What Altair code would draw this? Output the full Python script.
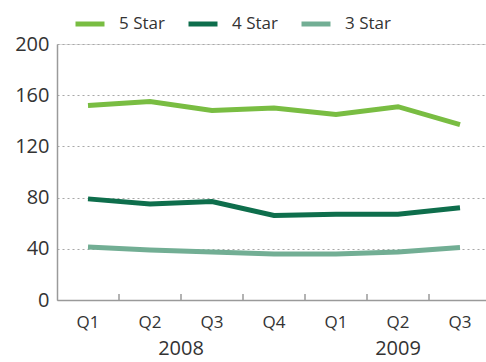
import altair as alt
import pandas as pd

# Quarterly index values by hotel class
quarters = ["2008 Q1", "2008 Q2", "2008 Q3", "2008 Q4", "2009 Q1", "2009 Q2", "2009 Q3"]
quarter_labels = ["Q1", "Q2", "Q3", "Q4", "Q1", "Q2", "Q3"]
five_star = [152, 155, 148, 150, 145, 151, 137]
four_star = [79, 75, 77, 66, 67, 67, 72]
three_star = [41.5, 39, 37.5, 36, 36, 37.5, 41]

series = ["5 Star", "4 Star", "3 Star"]
colors = ["#79bd42", "#0e6e4c", "#72ae94"]

rows = []
for name, vals in zip(series, [five_star, four_star, three_star]):
    for q, v in zip(quarters, vals):
        rows.append({"quarter": q, "value": v, "series": name})
df = pd.DataFrame(rows)

W, H = 429, 256
FONT = "Open Sans"
label_expr = "{" + ", ".join(f"'{q}': '{l}'" for q, l in zip(quarters, quarter_labels)) + "}[datum.value]"

x_scale = alt.Scale(domain=quarters, range=[0, 434], paddingInner=0, paddingOuter=0)

lines = alt.Chart(df).mark_line(strokeWidth=5, strokeCap="butt").encode(
    x=alt.X("quarter:N", scale=x_scale, sort=quarters,
            axis=alt.Axis(title=None, labelExpr=label_expr, labelAngle=0,
                          ticks=False, domain=True, domainColor="#9a9a9a",
                          domainWidth=1.5, labelFontSize=17, labelFont=FONT,
                          labelColor="#333333", labelPadding=14, grid=False)),
    y=alt.Y("value:Q", scale=alt.Scale(domain=[0, 200], nice=False),
            axis=alt.Axis(title=None, values=[0, 40, 80, 120, 160, 200],
                          ticks=False, domain=True, domainColor="#9a9a9a",
                          domainWidth=1.5, labelFontSize=20, labelFont=FONT,
                          labelColor="#333333", labelPadding=8,
                          grid=True, gridColor="#a8a8a8", gridDash=[2, 3],
                          gridWidth=1.2)),
    color=alt.Color("series:N", scale=alt.Scale(domain=series, range=colors),
                    sort=series,
                    legend=alt.Legend(title=None, orient="none", direction="horizontal",
                                      legendX=16, legendY=-37,
                                      symbolType="stroke", symbolSize=841,
                                      symbolStrokeWidth=5, labelFontSize=17,
                                      labelFont=FONT, labelColor="#333333",
                                      labelOffset=12, columnPadding=13,
                                      padding=0)),
)

# Small upward ticks at the quarter boundaries
tick_df = pd.DataFrame({"quarter": quarters[1:]})
ticks = alt.Chart(tick_df).mark_rule(color="#9a9a9a", strokeWidth=1.5).encode(
    x=alt.X("quarter:N", scale=x_scale, sort=quarters, bandPosition=0),
    y=alt.value(H - 6),
    y2=alt.value(H),
)

# Year labels under the quarter labels
years = ["2008", "2009"]
year_anchor = ["2008 Q2", "2009 Q2"]
year_df = pd.DataFrame({"quarter": year_anchor, "year": years})
year_2008 = alt.Chart(year_df.iloc[[0]]).mark_text(
    fontSize=20, font=FONT, color="#333333", baseline="middle").encode(
    x=alt.X("quarter:N", scale=x_scale, sort=quarters, bandPosition=1),
    y=alt.value(H + 49),
    text="year:N",
)
year_2009 = alt.Chart(year_df.iloc[[1]]).mark_text(
    fontSize=20, font=FONT, color="#333333", baseline="middle").encode(
    x=alt.X("quarter:N", scale=x_scale, sort=quarters, bandPosition=0.5),
    y=alt.value(H + 49),
    text="year:N",
)

chart = alt.layer(lines, ticks, year_2008, year_2009).properties(
    width=W, height=H,
    autosize=alt.AutoSizeParams(type="none"),
    padding={"left": 57, "top": 44, "right": 0, "bottom": 62},
).configure_view(stroke=None).configure(background="white")

chart.save("out.html", embed_options={"renderer": "svg", "actions": False})
